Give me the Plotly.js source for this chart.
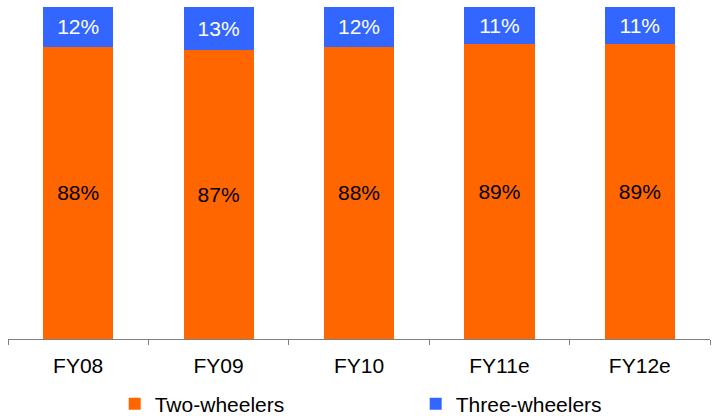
<!DOCTYPE html>
<html>
<head>
<meta charset="utf-8">
<script src="https://cdn.plot.ly/plotly-3.0.1.min.js"></script>
<style>
  html, body { margin: 0; padding: 0; background: #fff; }
  #chart { width: 723px; height: 416px; }
</style>
</head>
<body>
<div id="chart"></div>
<script>
// Vehicle mix by fiscal year (share of units, %)
const years = ['FY08', 'FY09', 'FY10', 'FY11e', 'FY12e'];
const twoWheelers = [88, 87, 88, 89, 89];
const threeWheelers = [12, 13, 12, 11, 11];

const FONT = 'Liberation Sans, Arial, sans-serif';

const traces = [
  {
    type: 'bar',
    name: 'Two-wheelers',
    x: years,
    y: twoWheelers,
    marker: { color: '#FF6600', line: { width: 0 } },
    text: twoWheelers.map(v => v + '%'),
    textposition: 'inside',
    insidetextanchor: 'middle',
    textfont: { family: FONT, size: 21, color: '#000000' },
    constraintext: 'none',
    hoverinfo: 'skip'
  },
  {
    type: 'bar',
    name: 'Three-wheelers',
    x: years,
    y: threeWheelers,
    marker: { color: '#3366FF', line: { width: 0 } },
    text: threeWheelers.map(v => v + '%'),
    textposition: 'inside',
    insidetextanchor: 'middle',
    textfont: { family: FONT, size: 21, color: '#FFFFFF' },
    constraintext: 'none',
    hoverinfo: 'skip'
  }
];

const layout = {
  width: 723,
  height: 416,
  margin: { l: 8, r: 13, t: 7, b: 77, autoexpand: false },
  paper_bgcolor: '#ffffff',
  plot_bgcolor: '#ffffff',
  barmode: 'stack',
  bargap: 0.5,
  font: { family: FONT, size: 21, color: '#000000' },
  showlegend: true,
  legend: {
    orientation: 'h',
    x: 0.152,
    xanchor: 'left',
    y: -0.196,
    yanchor: 'middle',
    entrywidth: 256,
    entrywidthmode: 'pixels',
    font: { family: FONT, size: 21, color: '#000000' },
    traceorder: 'normal',
    itemclick: false,
    itemdoubleclick: false
  },
  xaxis: {
    type: 'category',
    range: [-0.5, 4.5],
    showline: true,
    linecolor: '#808080',
    linewidth: 1,
    ticks: 'outside',
    tickson: 'boundaries',
    ticklen: 5,
    tickcolor: '#808080',
    ticklabelstandoff: 8,
    tickfont: { family: FONT, size: 21, color: '#000000' },
    showgrid: false,
    zeroline: false,
    fixedrange: true
  },
  yaxis: {
    range: [0, 100],
    visible: false,
    showgrid: false,
    zeroline: false,
    fixedrange: true
  }
};

Plotly.newPlot('chart', traces, layout, { displayModeBar: false, staticPlot: true });
</script>
</body>
</html>
